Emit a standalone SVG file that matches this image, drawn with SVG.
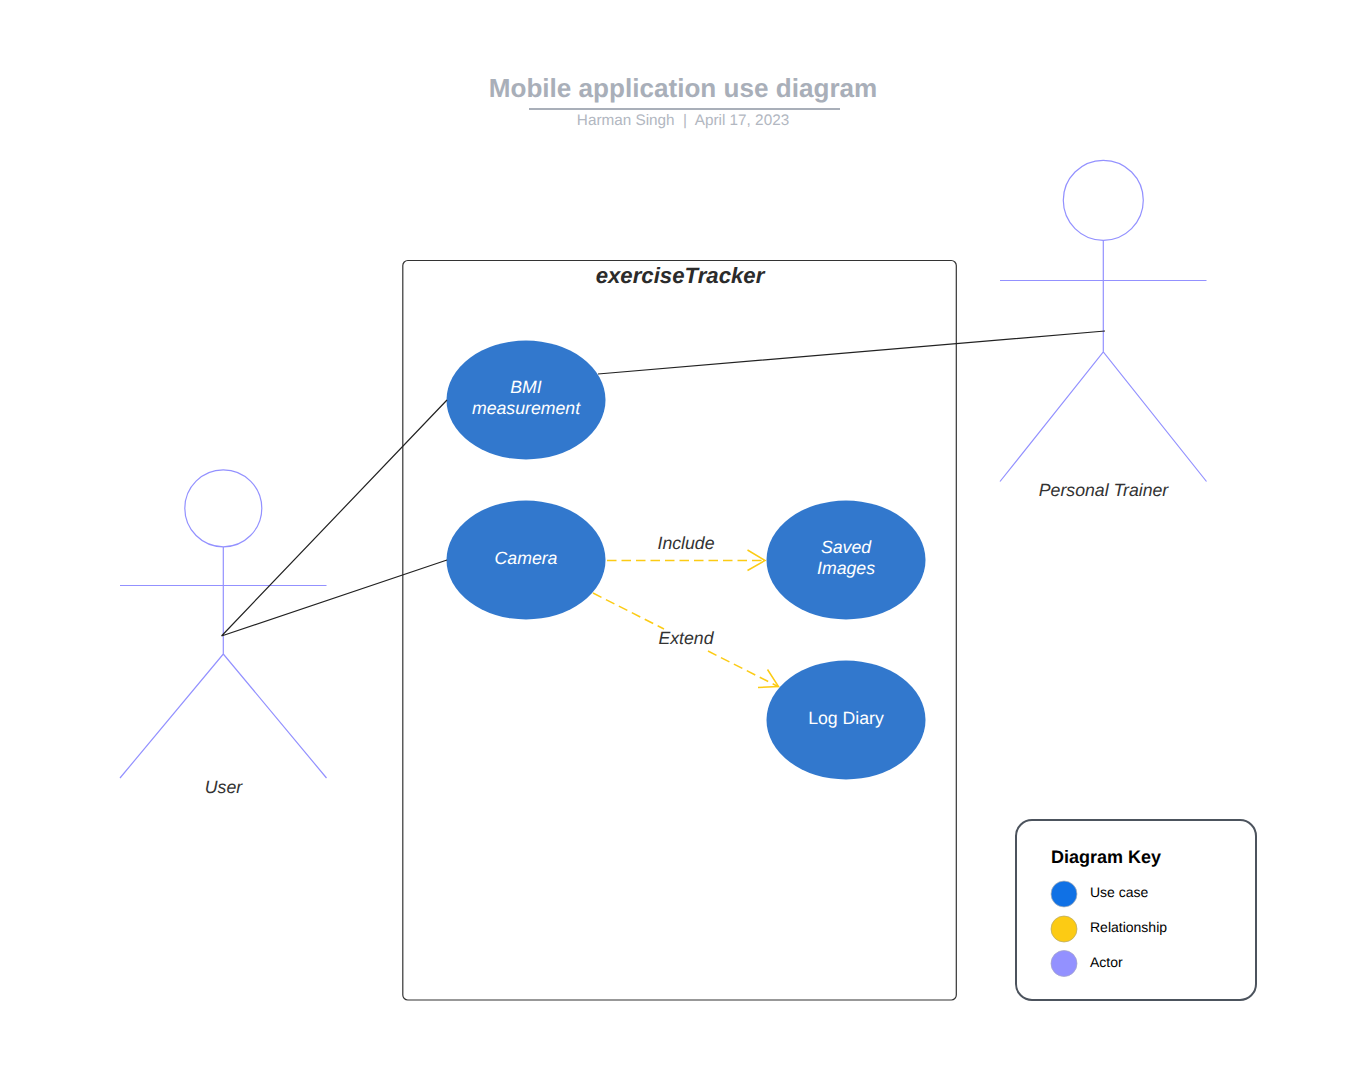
<svg xmlns="http://www.w3.org/2000/svg" width="1360" height="1090" viewBox="0 0 1360 1090">
<style>
text{font-family:"Liberation Sans",Arial,sans-serif;text-anchor:middle;text-rendering:geometricPrecision}
.actor{fill:none;stroke:#9391ff;stroke-width:1.2}
.uc{fill:#3278cd}
.uct{fill:#fff;font-size:17.7px;font-style:italic}
.lbl{fill:#333;font-size:17.7px;font-style:italic}
.assoc{fill:none;stroke:#222;stroke-width:1.2}
.rel{fill:none;stroke:#fccb14;stroke-width:1.5;stroke-dasharray:9.5 5}
.head{fill:none;stroke:#fccb14;stroke-width:1.5}
.kt{font-size:14px;fill:#000;text-anchor:start}
</style>
<rect width="1360" height="1090" fill="#fff"/>
<g id="title">
<text x="683" y="97" font-size="26.1" font-weight="bold" fill="#a9afb9">Mobile application use diagram</text>
<line x1="529" y1="109" x2="840" y2="109" stroke="#a9afb9" stroke-width="2"/>
<text x="683" y="125" font-size="15.3" fill="#b2b7c1" xml:space="preserve">Harman Singh  |  April 17, 2023</text>
</g>
<g id="system">
<rect x="402.800" y="260.500" width="553.500" height="739.500" rx="5" fill="#fff" stroke="#333" stroke-width="1.200"/>
<text x="680" y="283" font-size="22.2" font-weight="bold" font-style="italic" fill="#2b2b2b">exerciseTracker</text>
</g>
<g id="actor-user">
<circle class="actor" cx="223.300" cy="508.300" r="38.500"/>
<path class="actor" d="M223.300 547V654M120 585.500H326.500M120 778L223.300 654L326.500 778"/>
<text class="lbl" x="223.500" y="793">User</text>
</g>
<g id="actor-trainer">
<circle class="actor" cx="1103.300" cy="200.300" r="40"/>
<path class="actor" d="M1103.300 240.300V352M1000 280.500H1206.500M1000 481.500L1103.300 352L1206.500 481.500"/>
<text class="lbl" x="1103.500" y="496">Personal Trainer</text>
</g>
<g id="uc-bmi">
<ellipse class="uc" cx="526" cy="400" rx="79.500" ry="59.500"/>
<text class="uct" x="526" y="393">BMI</text>
<text class="uct" x="526" y="414">measurement</text>
</g>
<g id="uc-camera">
<ellipse class="uc" cx="526" cy="560" rx="79.500" ry="59.500"/>
<text class="uct" x="526" y="563.500">Camera</text>
</g>
<g id="uc-saved">
<ellipse class="uc" cx="846" cy="560" rx="79.500" ry="59.500"/>
<text class="uct" x="846" y="553">Saved</text>
<text class="uct" x="846" y="574">Images</text>
</g>
<g id="uc-log">
<ellipse class="uc" cx="846" cy="720" rx="79.500" ry="59.500"/>
<text x="846" y="723.500" font-size="17.7" fill="#fff">Log Diary</text>
</g>
<g id="connectors">
<path class="assoc" d="M221.500 636L447 400M221.500 636L447 560M598 374L1105 331"/>
<path class="rel" d="M607 560.500H765"/>
<path class="head" d="M747.500 550L765 560.500L747.500 570.500"/>
<path class="rel" d="M593 593L664 629M708 651L778 686.500"/>
<path class="head" d="M767.500 669.500L778.500 686.500L758 687.500"/>
<text class="lbl" x="686" y="549">Include</text>
<text class="lbl" x="686" y="644">Extend</text>
</g>
<g id="key">
<rect x="1016" y="820" width="240" height="180" rx="16" fill="#fff" stroke="#4c535d" stroke-width="2"/>
<text x="1051" y="863" font-size="18" font-weight="bold" fill="#000" style="text-anchor:start">Diagram Key</text>
<circle cx="1064" cy="894" r="13" fill="#1071e5" stroke="#b5b5b5" stroke-width="0.700"/>
<circle cx="1064" cy="929" r="13" fill="#fccb14" stroke="#b5a76a" stroke-width="0.700"/>
<circle cx="1064" cy="963.500" r="13" fill="#9391ff" stroke="#a5a5c5" stroke-width="0.700"/>
<text class="kt" x="1090" y="897">Use case</text>
<text class="kt" x="1090" y="932">Relationship</text>
<text class="kt" x="1090" y="967">Actor</text>
</g>
</svg>
